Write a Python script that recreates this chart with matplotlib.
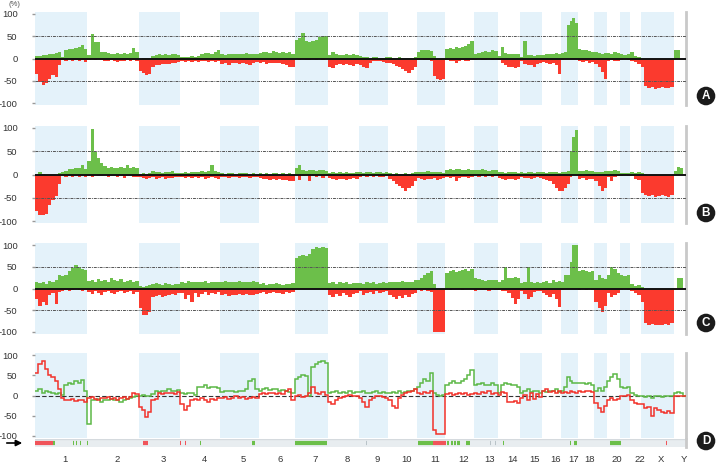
import numpy as np
import matplotlib
matplotlib.use('Agg')
import matplotlib.pyplot as plt

# ---------------- data ----------------
CHROMS = ['1', '2', '3', '4', '5', '6', '7', '8', '9', '10', '11', '12',
          '13', '14', '15', '16', '17', '18', '19', '20', '21', '22', 'X', 'Y']
CHROM_SIZES_MB = [249, 243, 198, 191, 181, 171, 159, 146, 141, 136, 135, 134,
                  115, 107, 103, 90, 81, 78, 59, 63, 48, 51, 155, 59]
TICK_LABELS = ['1', '2', '3', '4', '5', '6', '7', '8', '9', '10', '11', '12',
               '13', '14', '15', '16', '17', '18', '', '20', '', '22', 'X', 'Y']
Y_TICKS = [100, 50, 0, -50, -100]
PANEL_LABELS = ['A', 'B', 'C', 'D']

# Panel A: gain / loss frequency (%), per chromosome bins
A_GAIN = [
    [6, 5, 8, 7, 9, 10, 12, 15, 3, 20, 22, 21, 24, 26, 30, 22],
    [8, 55, 38, 36, 15, 14, 12, 10, 11, 12, 10, 12, 11, 12, 24, 15],
    [0, 1, 2, 1, 6, 8, 9, 8, 10, 8, 9, 10, 8],
    [3, 4, 3, 5, 4, 6, 10, 12, 12, 11, 14, 20],
    [10, 8, 10, 9, 11, 10, 9, 12, 10, 11, 9],
    [12, 14, 15, 12, 16, 14, 13, 15, 12, 14, 10],
    [42, 45, 58, 40, 38, 40, 42, 48, 50, 50],
    [8, 15, 9, 7, 8, 10, 8, 9, 7],
    [5, 4, 3, 2, 3, 3, 2, 2, 3],
    [3, 2, 2, 3, 2, 2, 1, 2, 4],
    [15, 18, 20, 18, 17, 5, 0, 0, 0],
    [22, 24, 22, 25, 23, 26, 28, 32, 40],
    [10, 12, 14, 16, 15, 18, 17],
    [5, 25, 12, 10, 10, 9, 10],
    [3, 40, 8, 7, 6, 8, 7],
    [8, 10, 9, 10, 12, 10],
    [12, 15, 75, 85, 92, 80],
    [22, 20, 18, 17, 15],
    [15, 12, 10, 12],
    [12, 10, 14, 12],
    [10, 8, 10],
    [15, 5, 3],
    [0, 0, 0, 0, 0, 0, 0, 0, 0, 0],
    [18, 20, 0, 0],
]
A_LOSS = [
    [-35, -52, -60, -55, -45, -38, -42, -14, -4, -5, -3, -6, -4, -5, -4, -8],
    [-3, -2, -3, -2, -3, -5, -6, -4, -5, -8, -5, -6, -4, -5, -3, -5],
    [-28, -33, -38, -35, -18, -15, -14, -13, -12, -12, -10, -9, -8],
    [-5, -8, -6, -7, -5, -8, -6, -5, -7, -6, -8, -5],
    [-12, -10, -14, -11, -10, -12, -9, -13, -15, -10, -8],
    [-10, -8, -12, -10, -9, -11, -10, -12, -14, -18, -20],
    [-2, -3, -2, -4, -3, -2, -3, -2, -3, -2],
    [-18, -22, -14, -12, -15, -13, -14, -16, -12],
    [-15, -20, -22, -10, -6, -5, -6, -8, -10],
    [-10, -13, -16, -20, -24, -28, -32, -25, -20],
    [-3, -2, -3, -4, -5, -40, -45, -48, -46],
    [-4, -6, -5, -10, -5, -4, -6, -5, -3],
    [-3, -2, -4, -3, -2, -3, -2],
    [-3, -10, -15, -18, -20, -22, -18],
    [-5, -12, -15, -14, -18, -12, -10],
    [-8, -10, -12, -10, -15, -35],
    [-3, -2, -1, -1, -2, -2],
    [-5, -8, -6, -10, -8],
    [-12, -20, -30, -45],
    [-5, -4, -6, -5],
    [-3, -2, -3],
    [-5, -8, -12],
    [-20, -62, -66, -65, -68, -66, -64, -67, -66, -65],
    [0, 0, 0, 0],
]

# Panel B
B_GAIN = [
    [0, 6, 2, 0, 0, 0, 0, 3, 5, 8, 12, 12, 14, 15, 20, 12],
    [30, 98, 48, 35, 25, 18, 15, 16, 14, 15, 16, 14, 20, 15, 16, 15],
    [2, 3, 2, 4, 8, 6, 5, 4, 6, 5, 8, 4, 3],
    [3, 5, 4, 6, 5, 6, 8, 6, 7, 20, 8, 5],
    [3, 2, 4, 3, 2, 3, 4, 3, 2, 3, 2],
    [3, 2, 3, 2, 4, 3, 2, 3, 2, 3, 2],
    [15, 20, 10, 8, 10, 9, 8, 10, 9, 8],
    [4, 5, 3, 6, 4, 5, 3, 4, 5],
    [5, 4, 6, 5, 4, 5, 6, 4, 5],
    [3, 2, 3, 2, 2, 3, 2, 3, 5],
    [5, 6, 5, 7, 6, 5, 6, 5, 4],
    [10, 12, 10, 11, 12, 10, 9, 11, 10],
    [10, 9, 11, 10, 8, 10, 9],
    [5, 6, 4, 5, 6, 5, 4],
    [5, 4, 6, 5, 4, 5, 6],
    [5, 4, 5, 6, 5, 4],
    [5, 6, 8, 50, 80, 95],
    [8, 7, 9, 8, 7],
    [5, 6, 5, 8],
    [8, 7, 9, 8],
    [3, 4, 3],
    [5, 4, 6],
    [3, 2, 0, 0, 0, 0, 0, 0, 0, 0],
    [8, 16, 14, 0],
]
B_LOSS = [
    [-78, -86, -88, -84, -66, -55, -46, -20, -3, -5, -3, -6, -4, -5, -3, -6],
    [-3, -5, -2, -3, -4, -2, -6, -3, -4, -5, -3, -8, -4, -3, -5, -6],
    [-5, -8, -10, -8, -6, -10, -8, -6, -9, -7, -8, -6, -5],
    [-5, -8, -6, -7, -5, -8, -6, -10, -7, -6, -8, -10],
    [-6, -5, -8, -6, -5, -7, -6, -5, -8, -6, -5],
    [-8, -10, -9, -11, -10, -12, -10, -11, -12, -14, -15],
    [-3, -12, -4, -2, -15, -3, -5, -2, -8, -3],
    [-8, -10, -12, -10, -9, -11, -10, -8, -10],
    [-5, -4, -6, -3, -5, -4, -6, -5, -4],
    [-10, -15, -20, -25, -30, -35, -30, -25, -15],
    [-8, -10, -12, -9, -10, -8, -12, -10, -8],
    [-5, -8, -6, -15, -7, -5, -6, -8, -5],
    [-4, -5, -3, -6, -4, -5, -3],
    [-8, -10, -12, -10, -9, -11, -10],
    [-6, -8, -7, -9, -8, -6, -7],
    [-10, -12, -15, -20, -30, -35],
    [-35, -30, -20, -5, -2, -2],
    [-10, -8, -12, -10, -9],
    [-15, -25, -35, -30],
    [-5, -15, -5, -4],
    [-3, -2, -3],
    [-3, -10, -12],
    [-40, -45, -47, -45, -48, -46, -45, -47, -48, -45],
    [0, 0, 0, 0],
]

# Panel C
C_GAIN = [
    [15, 12, 16, 10, 18, 15, 20, 30, 28, 32, 40, 48, 55, 50, 45, 42],
    [18, 20, 15, 22, 18, 20, 16, 25, 20, 18, 22, 15, 18, 20, 16, 18],
    [5, 3, 5, 8, 10, 12, 10, 8, 12, 10, 9, 11, 10],
    [15, 12, 18, 15, 14, 16, 15, 18, 12, 15, 14, 16],
    [15, 18, 14, 16, 15, 17, 14, 16, 15, 18, 14],
    [10, 12, 9, 11, 10, 12, 10, 9, 11, 10, 12],
    [70, 75, 78, 75, 80, 92, 95, 93, 95, 94],
    [12, 15, 10, 14, 12, 15, 11, 13, 12],
    [12, 10, 15, 12, 14, 10, 12, 15, 13],
    [15, 14, 16, 15, 18, 14, 15, 16, 20],
    [20, 25, 30, 35, 40, 10, 0, 0, 0],
    [35, 40, 42, 38, 40, 42, 45, 40, 44],
    [25, 22, 20, 18, 20, 19, 20],
    [15, 20, 50, 25, 24, 26, 25],
    [12, 15, 50, 14, 12, 15, 13],
    [15, 18, 12, 20, 15, 18],
    [15, 30, 30, 60, 100, 100],
    [40, 42, 40, 38, 40],
    [20, 30, 25, 22],
    [30, 50, 45, 35],
    [30, 28, 32],
    [10, 5, 8],
    [3, 0, 0, 0, 0, 0, 0, 0, 0, 0],
    [0, 25, 25, 0],
]
C_LOSS = [
    [-25, -40, -30, -38, -15, -10, -35, -8, -5, -3, -5, -4, -2, -3, -5, -4],
    [-8, -12, -5, -10, -15, -8, -6, -10, -12, -8, -5, -10, -8, -6, -12, -8],
    [-45, -60, -62, -55, -20, -18, -15, -20, -18, -15, -12, -15, -10],
    [-10, -25, -15, -30, -10, -20, -12, -8, -15, -10, -12, -8],
    [-15, -12, -18, -14, -16, -12, -15, -13, -16, -14, -12],
    [-10, -8, -12, -10, -9, -11, -10, -12, -8, -10, -9],
    [0, 0, 0, -2, 0, 0, 0, -1, 0, 0],
    [-15, -20, -12, -18, -10, -15, -20, -12, -10],
    [-5, -15, -10, -8, -12, -6, -10, -8, -5],
    [-15, -20, -25, -18, -22, -15, -20, -12, -10],
    [-3, -5, -4, -6, -8, -100, -100, -100, -100],
    [-2, -3, -2, -1, -2, -3, -2, -1, -2],
    [-5, -3, -4, -3, -5, -2, -3],
    [-3, -5, -5, -10, -22, -35, -25],
    [-5, -12, -25, -20, -8, -5, -6],
    [-10, -15, -20, -12, -25, -42],
    [-3, -2, -2, 0, 0, 0],
    [-3, -2, -3, -2, -3],
    [-30, -45, -55, -40],
    [-10, -20, -15, -10],
    [-3, -2, -3],
    [-5, -10, -15],
    [-30, -80, -84, -82, -85, -83, -84, -82, -85, -80],
    [0, 0, 0, 0],
]

# Panel D: two profile lines (%)
D_GREEN = [
    [10, 15, 5, 12, 8, 5, 3, 5, 2, 25, 30, 28, 35, 32, 38, 10],
    [-70, -10, -12, -8, -15, -10, -12, -8, -10, -12, -15, -10, -8, -5, -3, 0],
    [0, 2, 0, -2, 3, 10, 8, 12, 10, 15, 12, 10, 14],
    [5, 3, 6, 5, 2, 20, 22, 25, 18, 20, 22, 18],
    [8, 10, 12, 10, 8, 12, 10, 15, 35, 40, 15],
    [12, 15, 18, 14, 16, 15, 12, 14, 10, 8, 5],
    [40, 45, 50, 48, 0, 70, 78, 82, 85, 80],
    [5, 8, 10, 6, 8, 5, 10, 7, 8],
    [8, 10, 6, 5, 8, 10, 5, 8, 6],
    [5, 8, 6, 10, 5, 8, 10, 12, 15],
    [20, 30, 40, 35, 55, 5, 2, 0, 2],
    [25, 30, 35, 32, 30, 35, 40, 50, 62],
    [25, 28, 30, 25, 27, 30, 26],
    [5, 25, 30, 28, 25, 27, 22],
    [5, 10, 15, 8, 12, 10, 5],
    [10, 8, 12, 10, 15, 8],
    [10, 20, 45, 35, 30, 32],
    [32, 30, 28, 30, 25],
    [12, 18, 10, 20],
    [35, 45, 52, 40],
    [20, 18, 22],
    [5, 2, 0],
    [0, -3, 0, -5, -2, 0, -3, -2, 0, -1],
    [5, 8, 6, 0],
]
D_RED = [
    [55, 78, 85, 65, 50, 45, 35, 15, -5, -10, -12, -8, -14, -10, -12, -15],
    [-5, -3, -8, -10, -5, -6, -3, -8, -5, -10, -6, -4, -8, -3, 5, 3],
    [-28, -35, -52, -40, -12, -8, 5, 4, 6, 5, 7, 4, 8],
    [-20, -35, -25, -10, -8, -12, -5, -10, -15, -8, -12, -5],
    [-5, -3, -8, -5, -2, -6, -4, -8, -5, -3, -6],
    [3, 5, 4, 6, 5, 3, 5, 4, 12, 15, -10],
    [0, 2, -3, 0, 5, 20, 5, 3, 8, 2],
    [-15, -20, -12, -5, -3, 0, 2, -2, 0],
    [-5, -15, -28, -10, -5, -2, 0, -3, -5],
    [-10, -25, -30, -5, 2, 5, 8, 12, 15],
    [5, 3, 8, 5, 10, -85, -95, -95, -95],
    [3, 5, 2, 4, 6, 3, 5, 2, 4],
    [5, 3, 8, 5, 10, 4, 6],
    [2, 8, 5, -15, -15, -14, -18],
    [-5, 2, -10, 5, -8, 3, -3],
    [10, 15, 8, 12, 5, 10],
    [5, 8, 5, 10, 8, 6],
    [10, 8, 12, 10, 8],
    [-18, -30, -40, -25],
    [-10, -5, -12, -8],
    [0, -2, 2],
    [-10, -18, -20],
    [-20, -30, -28, -50, -30, -35, -40, -42, -38, -42],
    [0, 0, 0, 0],
]

# Significant-region strip under panel D (Mb, genome coordinates)
STRIP_START_MB = [0, 86, 181, 195, 214, 247, 514, 690, 714, 785, 1032, 1236, 1574,
                  1821, 1893, 1959, 1975, 1990, 2005, 2049, 2164, 2187, 2225,
                  2544, 2562, 2668, 2706, 2734, 2858, 2882, 2972, 3000, 3029]
STRIP_END_MB = [86, 95, 185, 199, 218, 251, 537, 694, 718, 789, 1046, 1389, 1577,
                1893, 1955, 1968, 1984, 1999, 2021, 2068, 2167, 2190, 2229,
                2548, 2577, 2671, 2709, 2782, 2861, 2885, 2976, 3004, 3033]
STRIP_KIND = ['loss', 'gain', 'gain', 'gain', 'gain', 'gain', 'loss', 'loss', 'loss', 'gain',
              'gain', 'gain', 'minor', 'gain', 'loss', 'gain', 'gain', 'gain', 'gain', 'gain',
              'minor', 'minor', 'gain', 'gain', 'gain', 'minor', 'minor', 'gain', 'minor',
              'minor', 'loss', 'loss', 'loss']

# ---------------- style ----------------
GREEN = '#6cbf4a'
RED = '#fb3a2e'
LINE_GREEN = '#5cb846'
LINE_RED = '#f2322a'
BAND = '#e4f2fa'
KIND_COLORS = {'gain': '#6cbf4a', 'loss': '#f0545a', 'minor': '#b9c3c8'}

plt.rcParams['font.family'] = ['Liberation Sans', 'DejaVu Sans']

W, H = 718, 468
fig = plt.figure(figsize=(W / 100, H / 100), dpi=100)

sizes = np.array(CHROM_SIZES_MB, float)
ends = np.cumsum(sizes)
starts = ends - sizes
total = ends[-1]

X_LEFT, X_RIGHT = 35, 686


def series(per_chrom):
    vals, edges = [], [0.0]
    for i, v in enumerate(per_chrom):
        e = np.linspace(starts[i], ends[i], len(v) + 1)[1:]
        edges.extend(e)
        vals.extend(v)
    return np.array(vals, float), np.array(edges)


def make_axes(top_px, bottom_px):
    return fig.add_axes([X_LEFT / W, 1 - bottom_px / H,
                         (X_RIGHT - X_LEFT) / W, (bottom_px - top_px) / H])


panel_px = [(12.2, 104.8), (126.1, 222.9), (243.3, 333.7), (353.4, 437.6)]
label_y_px = [96, 213, 323, 441]
bar_data = [(A_GAIN, A_LOSS), (B_GAIN, B_LOSS), (C_GAIN, C_LOSS)]

axes = []
for p, (top, bot) in enumerate(panel_px):
    ax = make_axes(top, bot)
    axes.append(ax)
    ax.set_xlim(0, total)
    ax.set_ylim(-104, 104)
    for i in range(len(CHROMS)):
        if i % 2 == 0:
            ax.axvspan(starts[i], ends[i], color=BAND, lw=0, zorder=0)
    if p < 3:
        gain, loss = bar_data[p]
        gv, ge = series(gain)
        lv, le = series(loss)
        ax.stairs(gv, ge, baseline=0, fill=True, color=GREEN, lw=0, zorder=2)
        ax.stairs(lv, le, baseline=0, fill=True, color=RED, lw=0, zorder=2)
        for yy in (50, -50):
            ax.axhline(yy, color='#555555', lw=0.7, ls=(0, (3, 1, 1, 1)), zorder=3)
        ax.axhline(0, color='#111111', lw=1.4, zorder=4)
    else:
        gv, ge = series(D_GREEN)
        rv, re_ = series(D_RED)
        ax.axhline(0, color='#333333', lw=0.8, ls=(0, (4, 2)), zorder=2)
        ax.stairs(gv, ge, baseline=None, color=LINE_GREEN, lw=1.1, zorder=3)
        ax.stairs(rv, re_, baseline=None, color=LINE_RED, lw=1.1, zorder=4)
    for s in ('top', 'bottom', 'left'):
        ax.spines[s].set_visible(False)
    ax.spines['right'].set_color('#c9c9c9')
    ax.spines['right'].set_linewidth(2)
    ax.set_yticks(Y_TICKS)
    ax.set_yticklabels([str(t) for t in Y_TICKS])
    ax.tick_params(axis='y', length=2.5, width=1, color='#999999', pad=10,
                   labelsize=6.8, labelcolor='#333333')
    ax.set_xticks([])
    ax.set_facecolor('none')
    fig.text(706 / W, 1 - label_y_px[p] / H, PANEL_LABELS[p], ha='center', va='center',
             color='white', fontsize=8.5, fontweight='bold',
             bbox=dict(boxstyle='circle,pad=0.28', fc='#1b1b1b', ec='none'))

# strip under panel D
sax = make_axes(439, 447)
sax.set_xlim(0, total)
sax.set_ylim(0, 1)
sax.set_facecolor('#e8edf0')
for s in ('top', 'left', 'bottom'):
    sax.spines[s].set_visible(False)
sax.spines['right'].set_color('#c9c9c9')
sax.spines['right'].set_linewidth(2)
sax.axhline(1, color='#d5dade', lw=1)
sax.hlines([0.5] * len(STRIP_START_MB), STRIP_START_MB, STRIP_END_MB,
           colors=[KIND_COLORS[k] for k in STRIP_KIND], lw=3)
centers = (starts + ends) / 2 + 18
sax.set_xticks(centers)
sax.set_xticklabels(TICK_LABELS)
sax.set_yticks([])
sax.tick_params(axis='x', length=0, pad=6, labelsize=6.8, labelcolor='#333333')

# arrow at left of strip
fig.add_artist(matplotlib.patches.FancyArrowPatch(
    (4 / W, 1 - 443 / H), (25 / W, 1 - 443 / H), transform=fig.transFigure,
    arrowstyle='-|>', mutation_scale=9, color='black', lw=1.2))

fig.text(14 / W, 1 - 1 / H, '(%)', ha='center', va='top', fontsize=5.5, color='#555555')

fig.savefig('out.png', dpi=100)
